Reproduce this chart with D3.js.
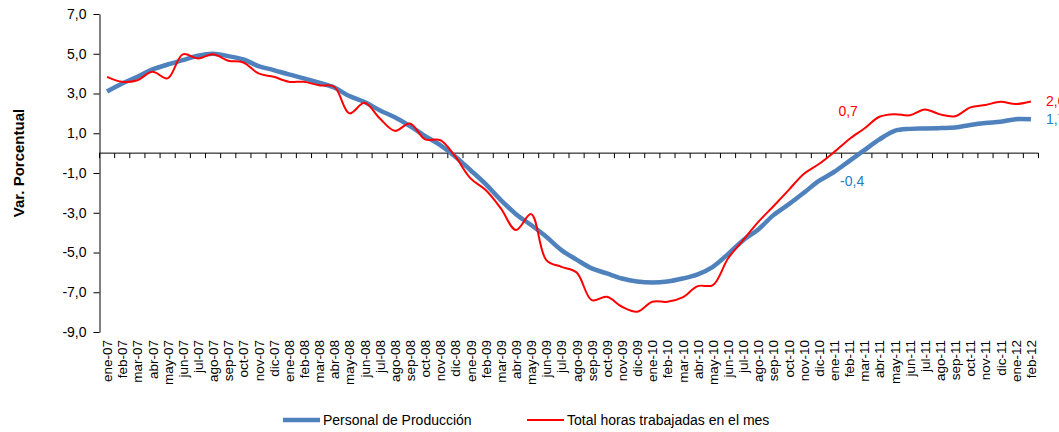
<!DOCTYPE html>
<html>
<head>
<meta charset="utf-8">
<script src="https://cdn.jsdelivr.net/npm/d3@7"></script>
<style>
  body { margin: 0; background: #fff; }
  svg text { font-family: "Liberation Sans", Arial, sans-serif; }
</style>
</head>
<body>
<div id="chart"></div>
<script>
// Datos
const categories = [
  "ene-07","feb-07","mar-07","abr-07","may-07","jun-07","jul-07","ago-07","sep-07","oct-07","nov-07","dic-07",
  "ene-08","feb-08","mar-08","abr-08","may-08","jun-08","jul-08","ago-08","sep-08","oct-08","nov-08","dic-08",
  "ene-09","feb-09","mar-09","abr-09","may-09","jun-09","jul-09","ago-09","sep-09","oct-09","nov-09","dic-09",
  "ene-10","feb-10","mar-10","abr-10","may-10","jun-10","jul-10","ago-10","sep-10","oct-10","nov-10","dic-10",
  "ene-11","feb-11","mar-11","abr-11","may-11","jun-11","jul-11","ago-11","sep-11","oct-11","nov-11","dic-11",
  "ene-12","feb-12"
];

const personal = [
  3.1, 3.5, 3.84, 4.21, 4.46, 4.68, 4.9, 5.0, 4.88, 4.71, 4.38, 4.18,
  3.96, 3.76, 3.54, 3.3, 2.87, 2.57, 2.16, 1.8, 1.36, 0.86, 0.4, -0.18,
  -0.86, -1.56, -2.36, -3.07, -3.62, -4.21, -4.88, -5.36, -5.8, -6.05, -6.31, -6.46,
  -6.51, -6.46, -6.31, -6.1, -5.72, -5.08, -4.38, -3.84, -3.12, -2.58, -2.0, -1.4,
  -0.95, -0.4, 0.15, 0.69, 1.12, 1.22, 1.24, 1.26, 1.29, 1.42, 1.52, 1.58,
  1.71, 1.7
];

const horas = [
  3.84, 3.59, 3.67, 4.09, 3.76, 4.97, 4.76, 4.97, 4.65, 4.56, 4.01, 3.84,
  3.59, 3.59, 3.41, 3.34, 2.0, 2.53, 1.75, 1.12, 1.49, 0.69, 0.65, -0.18,
  -1.27, -1.86, -2.78, -3.87, -3.07, -5.38, -5.72, -6.0, -7.4, -7.23, -7.73, -7.98,
  -7.48, -7.48, -7.26, -6.69, -6.64, -5.3, -4.38, -3.46, -2.67, -1.86, -1.05, -0.55,
  0.05, 0.7, 1.24, 1.83, 1.96, 1.9, 2.2, 1.95, 1.86, 2.3, 2.42, 2.58,
  2.47, 2.6
];

const yTicks = [-9, -7, -5, -3, -1, 1, 3, 5, 7];

// etiquetas de datos: [indice, texto]
const labelsPersonal = [[49, "-0,4"], [61, "1,7"]];
const labelsHoras = [[49, "0,7"], [61, "2,6"]];

const series = [
  { name: "Personal de Producción", values: personal, color: "#4F81BD", width: 4.5 },
  { name: "Total horas trabajadas en el mes", values: horas, color: "#FF0000", width: 2 }
];

// Tamaño
const W = 1059, H = 432;
const plot = { left: 99.5, right: 1038.5, top: 14, bottom: 332 };

const svg = d3.select("#chart")
  .append("svg")
  .attr("width", W)
  .attr("height", H);

const x = d3.scaleBand()
  .domain(categories)
  .range([plot.left, plot.right]);

const y = d3.scaleLinear()
  .domain([-9, 7])
  .range([plot.bottom, plot.top]);

const cx = c => x(c) + x.bandwidth() / 2;
const fmt = d => d.toFixed(1).replace(".", ",");

// Eje Y
const yAxis = d3.axisLeft(y)
  .tickValues(yTicks)
  .tickSize(6)
  .tickSizeOuter(0)
  .tickFormat(fmt);

const gy = svg.append("g")
  .attr("transform", `translate(${plot.left},0)`)
  .call(yAxis);
gy.select(".domain").attr("stroke", "#000");
gy.selectAll(".tick line").attr("stroke", "#000");
gy.selectAll(".tick text")
  .attr("x", -13)
  .attr("font-size", 14)
  .attr("fill", "#000");

// Eje X en el cero
const zeroY = y(0);
const gx = svg.append("g");
gx.append("line")
  .attr("x1", plot.left).attr("x2", plot.right)
  .attr("y1", zeroY).attr("y2", zeroY)
  .attr("stroke", "#000");

gx.selectAll("line.tk")
  .data(categories.concat([null]))
  .enter()
  .append("line")
  .attr("class", "tk")
  .attr("x1", d => d === null ? plot.right : x(d))
  .attr("x2", d => d === null ? plot.right : x(d))
  .attr("y1", zeroY)
  .attr("y2", zeroY + 5)
  .attr("stroke", "#000");

// Etiquetas de categoría (abajo)
svg.append("g")
  .selectAll("text")
  .data(categories)
  .enter()
  .append("text")
  .attr("transform", d => `translate(${cx(d) + 5},${plot.bottom + 8}) rotate(-90)`)
  .attr("text-anchor", "end")
  .attr("font-size", 13.5)
  .attr("fill", "#000")
  .text(d => d);

// Título eje Y
svg.append("text")
  .attr("transform", `translate(24,163) rotate(-90)`)
  .attr("text-anchor", "middle")
  .attr("font-size", 15)
  .attr("font-weight", "bold")
  .attr("fill", "#000")
  .text("Var. Porcentual");

// Líneas
const line = d3.line()
  .x((d, i) => cx(categories[i]))
  .y(d => y(d))
  .curve(d3.curveCatmullRom.alpha(0.5));

svg.selectAll("path.serie")
  .data(series)
  .enter()
  .append("path")
  .attr("class", "serie")
  .attr("fill", "none")
  .attr("stroke", d => d.color)
  .attr("stroke-width", d => d.width)
  .attr("stroke-linejoin", "round")
  .attr("d", d => line(d.values));

// Etiquetas de datos
function addLabels(list, values, color, dy, anchor, dx) {
  list.forEach(([i, t]) => {
    const isLast = i === categories.length - 1;
    svg.append("text")
      .attr("x", cx(categories[i]) + (isLast ? 15 : dx))
      .attr("y", y(values[i]) + (isLast ? 5 : dy))
      .attr("text-anchor", isLast ? "start" : anchor)
      .attr("font-size", 14)
      .attr("fill", color)
      .text(t);
  });
}
addLabels(labelsHoras, horas, "#FF0000", -23, "middle", -1);
addLabels(labelsPersonal, personal, "#1F7CC8", 25, "middle", 3);

// Leyenda
const legend = svg.append("g").attr("transform", "translate(0,420)");
const legendPos = [283, 527];
series.forEach((s, i) => {
  const g = legend.append("g").attr("transform", `translate(${legendPos[i]},0)`);
  g.append("line")
    .attr("x1", 0).attr("x2", 37)
    .attr("y1", 0).attr("y2", 0)
    .attr("stroke", s.color)
    .attr("stroke-width", s.width);
  g.append("text")
    .attr("x", 40)
    .attr("y", 5)
    .attr("font-size", 14)
    .attr("fill", "#000")
    .text(s.name);
});
</script>
</body>
</html>
